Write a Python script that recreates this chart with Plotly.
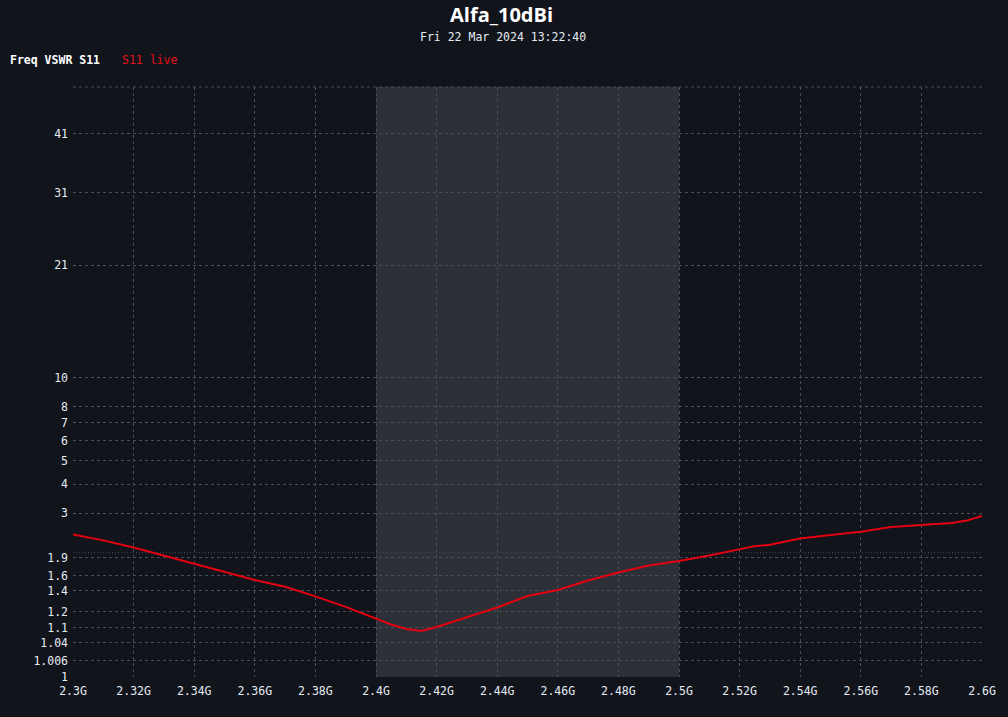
import numpy as np
import plotly.graph_objects as go

# ---------------- data ----------------
freq_ghz = [2.300, 2.310, 2.320, 2.330, 2.340, 2.350, 2.360, 2.370, 2.380, 2.390,
            2.400, 2.405, 2.410, 2.415, 2.420, 2.430, 2.440, 2.450, 2.460, 2.470,
            2.480, 2.490, 2.500, 2.510, 2.520, 2.525, 2.530, 2.540, 2.550, 2.560,
            2.570, 2.580, 2.590, 2.595, 2.600]
vswr_s11 = [2.41, 2.27, 2.11, 1.945, 1.79, 1.65, 1.54, 1.45, 1.34, 1.24,
            1.154, 1.116, 1.093, 1.084, 1.103, 1.159, 1.234, 1.344, 1.411, 1.533,
            1.650, 1.764, 1.844, 1.947, 2.068, 2.14, 2.17, 2.314, 2.399, 2.481,
            2.604, 2.666, 2.713, 2.78, 2.914]

y_tick_vals = [1, 1.006, 1.04, 1.1, 1.2, 1.4, 1.6, 1.9, 3, 4, 5, 6, 7, 8, 10, 21, 31, 41]
y_tick_text = ["1", "1.006", "1.04", "1.1", "1.2", "1.4", "1.6", "1.9", "3", "4", "5",
               "6", "7", "8", "10", "21", "31", "41"]
x_tick_vals = [2.30, 2.32, 2.34, 2.36, 2.38, 2.40, 2.42, 2.44, 2.46, 2.48,
               2.50, 2.52, 2.54, 2.56, 2.58, 2.60]
x_tick_text = ["2.3G", "2.32G", "2.34G", "2.36G", "2.38G", "2.4G", "2.42G", "2.44G",
               "2.46G", "2.48G", "2.5G", "2.52G", "2.54G", "2.56G", "2.58G", "2.6G"]
band_ghz = [2.4, 2.5]
vswr_ref = 2.0
vswr_max = 50.2

title = "Alfa_10dBi"
subtitle = "Fri 22 Mar 2024 13:22:40"


# VSWR axis scale: (vswr - 1) ** 0.4
def scale(v):
    return np.power(np.asarray(v, dtype=float) - 1.0, 0.4)


BG = "#11141b"
GRID = "#4a4d55"
TXT = "#e4ebf3"
RED = "#e3000f"
MONO = "DejaVu Sans Mono"

fig = go.Figure()
fig.add_trace(go.Scatter(
    x=freq_ghz, y=scale(vswr_s11), mode="lines",
    line=dict(color=RED, width=2), showlegend=False, hoverinfo="skip"))

# shaded band
fig.add_shape(type="rect", xref="x", yref="paper", x0=band_ghz[0], x1=band_ghz[1],
              y0=0, y1=1, fillcolor="#2e3038", line=dict(width=0), layer="below")
# VSWR 2 reference line
fig.add_shape(type="line", xref="paper", yref="y", x0=0, x1=1,
              y0=float(scale(vswr_ref)), y1=float(scale(vswr_ref)),
              line=dict(color=GRID, width=1, dash="1px,2px"), layer="below")
# top border dashed
fig.add_shape(type="line", xref="paper", yref="paper", x0=0, x1=1, y0=1, y1=1,
              line=dict(color=GRID, width=1, dash="3px,3px"), layer="below")

L, R, T, B = 73, 23, 87, 40
W, H = 1008, 717
pw, ph = W - L - R, H - T - B


def px(x):
    return (x - L) / pw


def py(y):
    return (H - B - y) / ph


ann = [
    dict(text="<b>" + title + "</b>", x=px(503), xref="paper", y=py(15), yref="paper",
         xanchor="center", yanchor="middle", showarrow=False,
         font=dict(family="Open Sans", size=20, color="#ffffff")),
    dict(text=subtitle, x=px(504), xref="paper", y=py(37), yref="paper",
         xanchor="center", yanchor="middle", showarrow=False,
         font=dict(family=MONO, size=11.5, color=TXT)),
    dict(text="<b>Freq VSWR S11</b>", x=px(8), xref="paper", y=py(60), yref="paper",
         xanchor="left", yanchor="middle", showarrow=False,
         font=dict(family=MONO, size=11.5, color="#ffffff")),
    dict(text="S11 live", x=px(120), xref="paper", y=py(60), yref="paper",
         xanchor="left", yanchor="middle", showarrow=False,
         font=dict(family=MONO, size=11.5, color="#e8101a")),
]

fig.update_layout(
    width=W, height=H, margin=dict(l=L, r=R, t=T, b=B, pad=0),
    paper_bgcolor=BG, plot_bgcolor=BG, annotations=ann, showlegend=False,
    xaxis=dict(range=[x_tick_vals[0], x_tick_vals[-1]], tickmode="array",
               tickvals=x_tick_vals, ticktext=x_tick_text, showgrid=True,
               gridcolor=GRID, gridwidth=1, griddash="3px,3px", zeroline=False,
               showline=False, ticks="", ticklabelstandoff=5, fixedrange=True,
               tickfont=dict(family=MONO, size=11.5, color=TXT)),
    yaxis=dict(range=[0, float(scale(vswr_max))], tickmode="array",
               tickvals=scale(y_tick_vals).tolist(), ticktext=y_tick_text, showgrid=True,
               gridcolor=GRID, gridwidth=1, griddash="3px,3px", zeroline=False,
               showline=False, ticks="", ticklabelstandoff=4, fixedrange=True,
               tickfont=dict(family=MONO, size=11.5, color=TXT)),
)

fig.write_html("out.html")
